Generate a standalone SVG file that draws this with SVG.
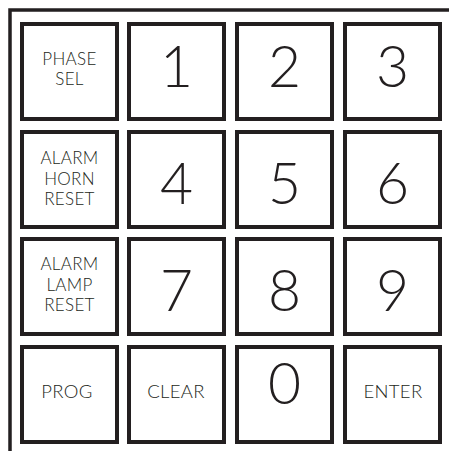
<svg xmlns="http://www.w3.org/2000/svg" width="449" height="451" viewBox="0 0 449 451">
<style>
.key{fill:#fff;stroke:#231f20;stroke-width:4}
.frame{fill:none;stroke:#231f20;stroke-width:3.5}
.lbl{font-family:Lato,"Open Sans","Liberation Sans",sans-serif;font-weight:300;font-size:17px;letter-spacing:0.3px;fill:#231f20;text-anchor:middle}
.big{font-size:18.5px}
.dig{font-family:Lato,"Open Sans","Liberation Sans",sans-serif;font-weight:300;font-size:57px;fill:#231f20;text-anchor:middle}
</style>
<rect width="449" height="451" fill="#fff"/>
<g id="frame"><path class="frame" d="M10,451 V10 H449"/></g>
<g id="connectors"/>
<g id="k-phase"><rect class="key" x="22" y="24" width="95" height="95"/><text class="lbl" x="69.5" y="64.5">PHASE</text><text class="lbl" x="69.5" y="85">SEL</text></g>
<g id="k1"><rect class="key" x="129" y="24" width="95" height="95"/><text class="dig" x="176.5" y="87">1</text></g>
<g id="k2"><rect class="key" x="237" y="24" width="95" height="95"/><text class="dig" x="284.5" y="87">2</text></g>
<g id="k3"><rect class="key" x="345" y="24" width="95" height="95"/><text class="dig" x="392.5" y="87">3</text></g>
<g id="k-horn"><rect class="key" x="22" y="132" width="95" height="95"/><text class="lbl" x="69.5" y="164">ALARM</text><text class="lbl" x="69.5" y="184.5">HORN</text><text class="lbl" x="69.5" y="205">RESET</text></g>
<g id="k4"><rect class="key" x="129" y="132" width="95" height="95"/><text class="dig" x="176.5" y="204">4</text></g>
<g id="k5"><rect class="key" x="237" y="132" width="95" height="95"/><text class="dig" x="284.5" y="204">5</text></g>
<g id="k6"><rect class="key" x="345" y="132" width="95" height="95"/><text class="dig" x="392.5" y="204">6</text></g>
<g id="k-lamp"><rect class="key" x="22" y="239" width="95" height="95"/><text class="lbl" x="69.5" y="270">ALARM</text><text class="lbl" x="69.5" y="290.5">LAMP</text><text class="lbl" x="69.5" y="311">RESET</text></g>
<g id="k7"><rect class="key" x="129" y="239" width="95" height="95"/><text class="dig" x="176.5" y="311">7</text></g>
<g id="k8"><rect class="key" x="237" y="239" width="95" height="95"/><text class="dig" x="284.5" y="311">8</text></g>
<g id="k9"><rect class="key" x="345" y="239" width="95" height="95"/><text class="dig" x="392.5" y="311">9</text></g>
<g id="k-prog"><rect class="key" x="22" y="347" width="95" height="95"/><text class="lbl big" x="67" y="398">PROG</text></g>
<g id="k-clear"><rect class="key" x="129" y="347" width="95" height="95"/><text class="lbl big" x="176" y="398">CLEAR</text></g>
<g id="k0"><rect class="key" x="237" y="347" width="95" height="95"/><text class="dig" x="284.5" y="404">0</text></g>
<g id="k-enter"><rect class="key" x="345" y="347" width="95" height="95"/><text class="lbl big" x="393" y="398">ENTER</text></g>
</svg>
